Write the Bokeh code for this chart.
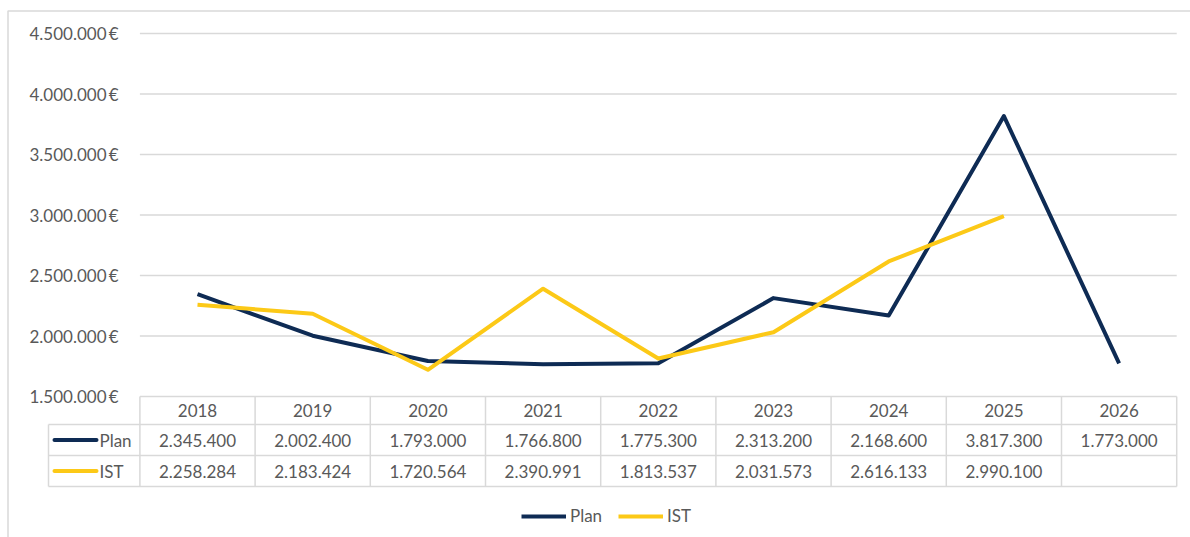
from bokeh.plotting import figure
from bokeh.models import Range1d, ColumnDataSource, Legend, LegendItem
from bokeh.core.properties import value
from bokeh.embed import file_html
from bokeh.resources import INLINE

# ---- data ----
years = ["2018", "2019", "2020", "2021", "2022", "2023", "2024", "2025", "2026"]
plan = [2345400, 2002400, 1793000, 1766800, 1775300, 2313200, 2168600, 3817300, 1773000]
ist = [2258284, 2183424, 1720564, 2390991, 1813537, 2031573, 2616133, 2990100, None]
y_ticks = [1500000, 2000000, 2500000, 3000000, 3500000, 4000000, 4500000]
series_names = ["Plan", "IST"]

# ---- style ----
PLAN_C = "#0e2b54"
IST_C = "#fcc917"
GRID_C = "#d9d9d9"
TXT_C = "#595959"
FONT = value("Lato")
FS = value("17px")

# layout helpers: screen pixel -> data coordinate
PX = 115.2      # px per category
X0 = 197.0      # px of first category
Y15 = 396.0     # px of 1.500.000
PPV = 60.5 / 500000.0
W, H = 1190, 537


def sx(X):
    return (X - X0) / PX


def sy(Y):
    return 1500000 + (Y15 - Y) / PPV


def fmt(v):
    return f"{v:,}".replace(",", ".")


p = figure(width=W, height=H,
           x_range=Range1d(sx(0), sx(W)), y_range=Range1d(sy(H), sy(0)),
           x_axis_location=None, y_axis_location=None,
           output_backend="svg", toolbar_location=None,
           min_border=0, outline_line_color=None,
           background_fill_color="white", border_fill_color="white")
p.grid.visible = False

n = len(years)
xs = list(range(n))
left_edge = -0.5
right_edge = n - 0.5
lab_left = sx(48)

# outer border
p.quad(left=[sx(7.5)], right=[sx(1300)], top=[sy(10.5)], bottom=[sy(700)],
       fill_alpha=0, line_color=GRID_C, line_width=1.5)

# gridlines
p.segment(x0=[left_edge] * len(y_ticks), x1=[right_edge] * len(y_ticks),
          y0=y_ticks, y1=y_ticks, line_color=GRID_C, line_width=1.5)

# y tick labels
p.text(x=[sx(118)] * len(y_ticks), y=y_ticks,
       text=[fmt(v) + "\u2009€" for v in y_ticks],
       text_align="right", text_baseline="middle",
       text_font=FONT, text_font_size=FS, text_color=TXT_C)

# ---- data table ----
r_top, r_h1, r_h2, r_bot = sy(396), sy(424), sy(455), sy(486)
# horizontal lines
p.segment(x0=[lab_left, lab_left, lab_left], x1=[right_edge] * 3,
          y0=[r_h1, r_h2, r_bot], y1=[r_h1, r_h2, r_bot],
          line_color=GRID_C, line_width=1.5)
# vertical lines
vx = [i - 0.5 for i in range(n + 1)]
p.segment(x0=vx, x1=vx, y0=[r_top] * len(vx), y1=[r_bot] * len(vx),
          line_color=GRID_C, line_width=1.5)
p.segment(x0=[lab_left], x1=[lab_left], y0=[r_h1], y1=[r_bot],
          line_color=GRID_C, line_width=1.5)

# header (years)
p.text(x=xs, y=[(r_top + r_h1) / 2] * n, text=years,
       text_align="center", text_baseline="middle",
       text_font=FONT, text_font_size=FS, text_color=TXT_C)
# rows
row_y = [(r_h1 + r_h2) / 2, (r_h2 + r_bot) / 2]
for vals, yy in zip([plan, ist], row_y):
    tx = [i for i, v in enumerate(vals) if v is not None]
    tt = [fmt(v) for v in vals if v is not None]
    p.text(x=tx, y=[yy] * len(tx), text=tt,
           text_align="center", text_baseline="middle",
           text_font=FONT, text_font_size=FS, text_color=TXT_C)

# row label swatches + names
for name, col, yy in zip(series_names, [PLAN_C, IST_C], row_y):
    p.segment(x0=[sx(54)], x1=[sx(96)], y0=[yy], y1=[yy],
              line_color=col, line_width=4, line_cap="round")
    p.text(x=[sx(99)], y=[yy], text=[name],
           text_align="left", text_baseline="middle",
           text_font=FONT, text_font_size=FS, text_color=TXT_C)

# ---- lines ----
src_plan = ColumnDataSource(dict(x=xs, y=plan))
ist_x = [i for i, v in enumerate(ist) if v is not None]
ist_y = [v for v in ist if v is not None]
src_ist = ColumnDataSource(dict(x=ist_x, y=ist_y))

r_plan = p.line("x", "y", source=src_plan, line_color=PLAN_C, line_width=4,
                line_join="round")
r_ist = p.line("x", "y", source=src_ist, line_color=IST_C, line_width=4,
               line_join="round")

legend = Legend(items=[LegendItem(label=series_names[0], renderers=[r_plan]),
                       LegendItem(label=series_names[1], renderers=[r_ist])],
                orientation="horizontal", location=(521, 11),
                glyph_width=45, glyph_height=20, label_standoff=4, spacing=16,
                padding=0, margin=0, border_line_alpha=0,
                background_fill_alpha=0,
                label_text_font="Lato", label_text_font_size="17px",
                label_text_color=TXT_C)
p.add_layout(legend)

open("out.html", "w").write(file_html(p, INLINE))
